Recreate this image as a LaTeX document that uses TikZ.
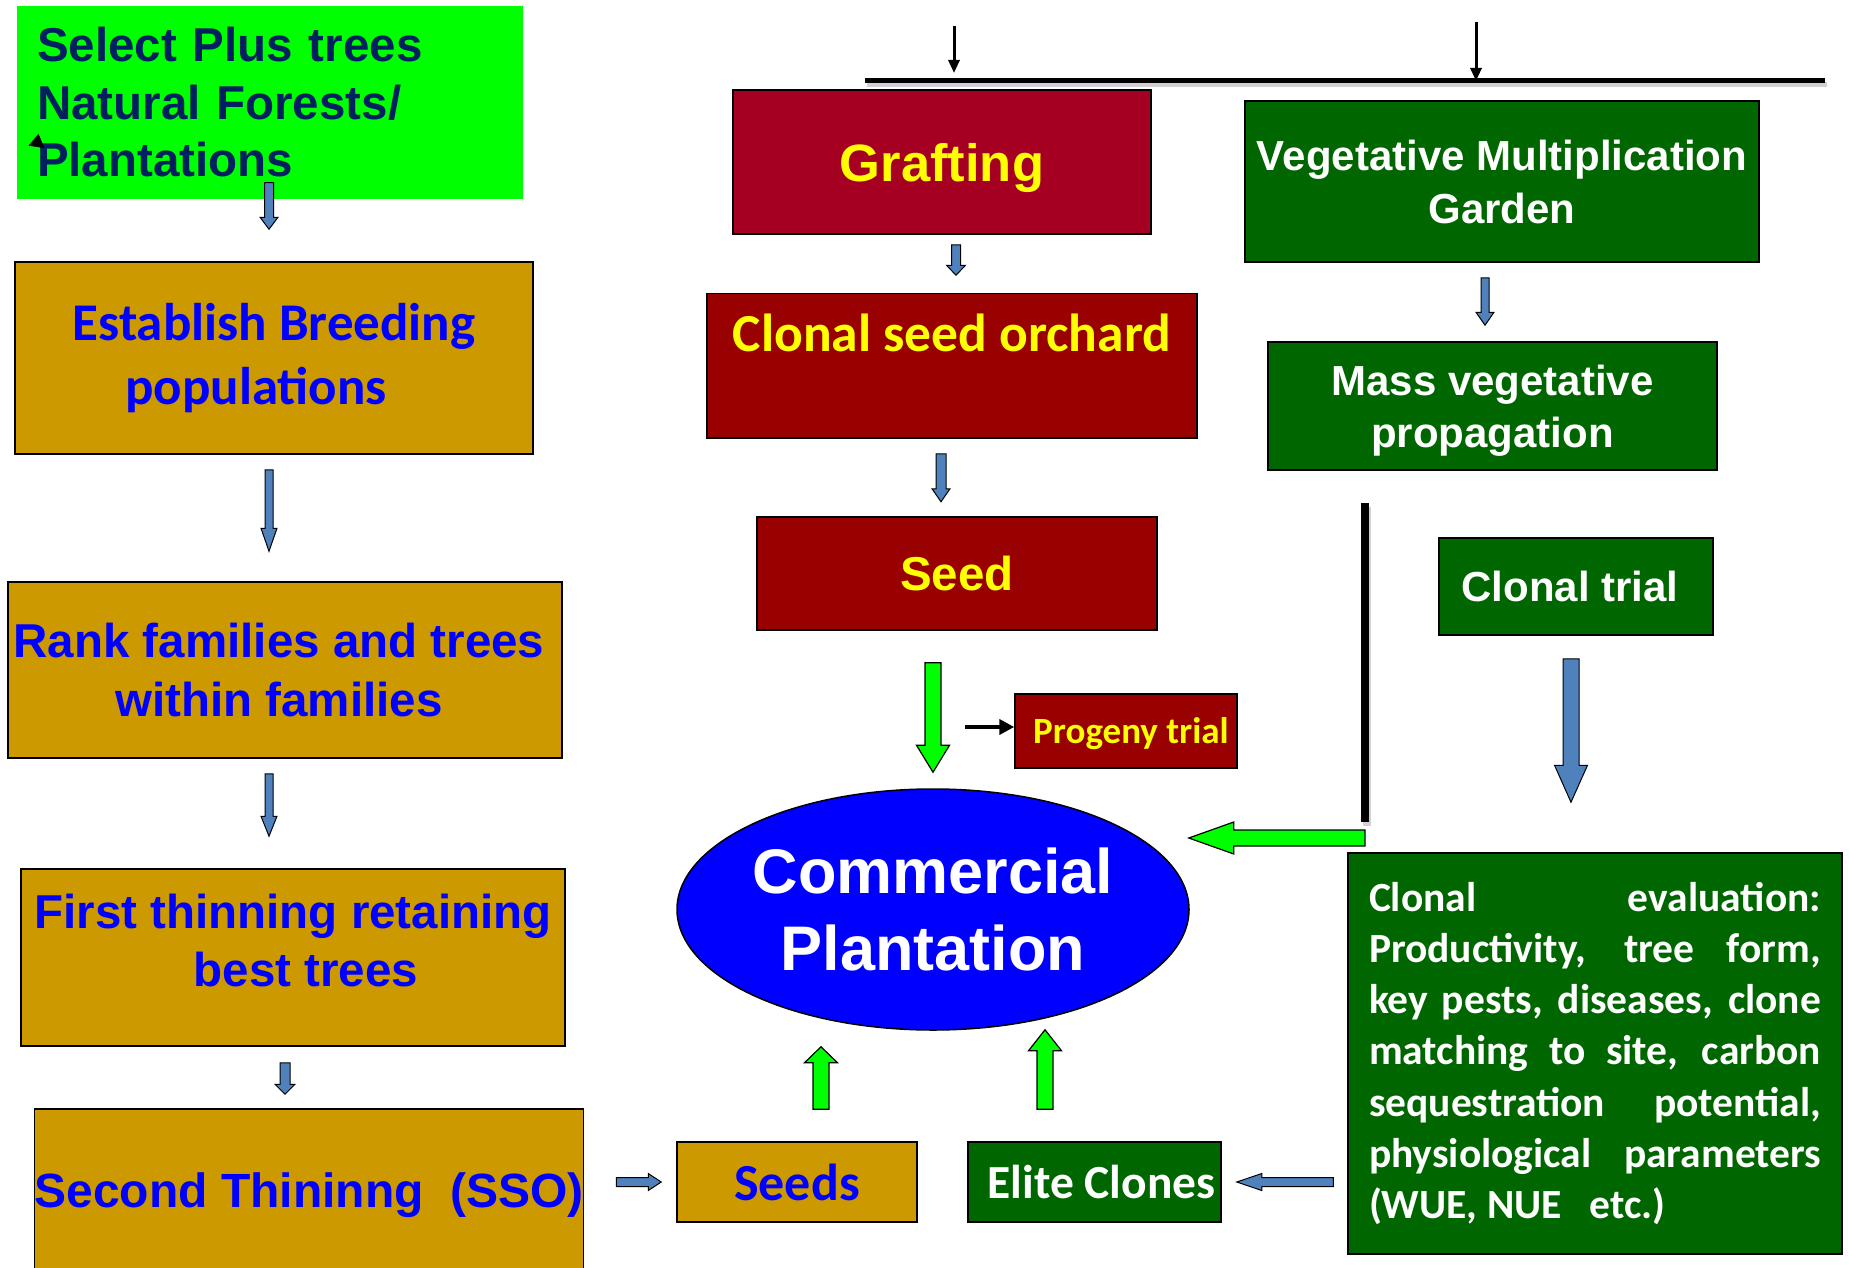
\documentclass[tikz,border=0pt]{standalone}
\usepackage{fontspec}
\setmainfont{Liberation Sans}
\newfontfamily\carlito{Carlito}
\usetikzlibrary{calc, arrows.meta, shapes.geometric}
\definecolor{flowLime}{HTML}{00FF00}
\definecolor{flowNavy}{HTML}{002060}
\definecolor{flowGold}{HTML}{CC9900}
\definecolor{flowBlue}{HTML}{0000FF}
\definecolor{flowCrimson}{HTML}{A50021}
\definecolor{flowMaroon}{HTML}{990000}
\definecolor{flowForest}{HTML}{006600}
\definecolor{flowYellow}{HTML}{FFFF00}
\definecolor{flowSteel}{HTML}{4F81BD}
\newcommand{\fsz}[2]{\fontsize{#1pt}{#2pt}\selectfont}

\begin{document}
\begin{tikzpicture}[
    x=1pt, y=-1pt,
    box/.style={draw=black, line width=1.5pt, inner sep=0pt, align=center},
    goldbox/.style={box, fill=flowGold, text=flowBlue},
    redbox/.style={box, fill=flowMaroon, text=flowYellow},
    greenbox/.style={box, fill=flowForest, text=white},
    barrow/.style n args={3}{to path={
        let \p1=(\tikztostart), \p2=(\tikztotarget), \p3=($(\p2)!#3!(\p1)$) in
        ($(\p1)!#1!90:(\p2)$) -- ($(\p3)!#1!90:(\p2)$) -- ($(\p3)!#2!90:(\p2)$) -- (\p2)
        -- ($(\p3)!#2!-90:(\p2)$) -- ($(\p3)!#1!-90:(\p2)$) -- ($(\p1)!#1!-90:(\p2)$) -- cycle}},
    bluearrow/.style n args={3}{draw=black, line width=1pt, line join=miter, fill=flowSteel, barrow={#1}{#2}{#3}},
    limearrow/.style n args={3}{draw=black, line width=1.2pt, line join=miter, fill=flowLime, barrow={#1}{#2}{#3}},
    busline/.style={line width=#1, preaction={draw=black!18, line width=#1, transform canvas={xshift=2pt, yshift=-4pt}}},
    feed/.style={line width=3pt, -{Triangle[length=13pt, width=11pt]}}
]
    \fill[white] (0,0) rectangle (1849,1268);
    \useasboundingbox (0,0) rectangle (1849,1268);

    % seed route, left
    \node[box, draw=none, fill=flowLime, text=flowNavy, align=left, text width=466pt, minimum width=506pt, minimum height=193pt, font=\bfseries\fsz{47.5}{57.5}] (plus) at (270,102.5) {Select Plus trees\\Natural Forests/\\Plantations};
    \node[goldbox, minimum width=518pt, minimum height=192pt, font=\carlito\bfseries\fsz{53}{64}] (breed) at (274,358) {Establish Breeding\\populations\hspace*{36pt}};
    \node[goldbox, minimum width=554pt, minimum height=176pt, font=\bfseries\fsz{47.5}{59}] (rank) at (285,670) {Rank families and trees\hspace*{12pt}\\within families\hspace*{12pt}};
    \node[goldbox, minimum width=544pt, minimum height=177pt, text depth=34pt, font=\bfseries\fsz{47.5}{58}] (thin1) at (293,957.5) {First thinning retaining\\\hspace*{26pt}best trees};
    \node[goldbox, minimum width=544pt, minimum height=172pt, font=\bfseries\fsz{48}{58}] (thin2) at (309,1195) {Second Thininng\ \ (SSO)};

    % grafting route, middle
    \node[box, fill=flowCrimson, text=flowYellow, minimum width=418pt, minimum height=144pt, text height=40pt, text depth=0pt, font=\bfseries\fsz{52.5}{60}] (graft) at (942,162) {Grafting};
    \node[redbox, minimum width=490pt, minimum height=144.5pt, text height=37pt, text depth=66pt, font=\carlito\bfseries\fsz{53.5}{60}] (cso) at (952,365.75) {Clonal seed orchard};
    \node[redbox, minimum width=400pt, minimum height=113pt, font=\bfseries\fsz{47.5}{55}] (seed) at (957,573.5) {Seed};
    \node[redbox, minimum width=222pt, minimum height=74pt, text height=25pt, text depth=1pt, font=\carlito\bfseries\fsz{37}{43}] (prog) at (1126,731) {\hspace*{10pt}Progeny trial};

    % clonal route, right
    \node[greenbox, minimum width=514pt, minimum height=161pt, font=\bfseries\fsz{42}{53}] (vmg) at (1502,181.5) {Vegetative Multiplication\\Garden};
    \node[greenbox, minimum width=449pt, minimum height=128pt, text depth=-3pt, font=\bfseries\fsz{42}{52}] (mass) at (1492.5,406) {Mass vegetative\\propagation};
    \node[greenbox, minimum width=274pt, minimum height=97pt, font=\bfseries\fsz{42}{50}] (trial) at (1576,586.5) {Clonal trial\hspace*{12pt}};
    \node[greenbox, minimum width=494pt, minimum height=401pt, text width=452pt, align=justify, font=\carlito\bfseries\fsz{41.5}{51.2}] (eval) at (1595,1053.5) {\noindent Clonal evaluation:\linebreak Productivity, tree form,\linebreak key pests, diseases, clone\linebreak matching to site, carbon\linebreak sequestration potential,\linebreak physiological parameters\linebreak (WUE, NUE\ \ \ etc.)};

    % outputs
    \node[goldbox, minimum width=240pt, minimum height=80pt, font=\carlito\bfseries\fsz{52}{60}] (seeds) at (797,1182) {Seeds};
    \node[greenbox, minimum width=253pt, minimum height=80pt, font=\carlito\bfseries\fsz{47.5}{55}] (elite) at (1094.5,1182) {\hspace*{14pt}Elite Clones};
    \node[ellipse, draw=black, line width=1.5pt, fill=flowBlue, text=white, inner sep=0pt, minimum width=512pt, minimum height=241pt, align=center, font=\bfseries\fsz{63}{77}] (cp) at (933,909.5) {Commercial\\Plantation};

    % free ends of the black lines
    \coordinate (busL) at (865,81);
    \coordinate (busR) at (1825,81);
    \coordinate (feedA) at (954,26);
    \coordinate (feedB) at (1476,22);
    \coordinate (vbarT) at (1365,503);
    \coordinate (vbarB) at (1365,822);
    \coordinate (progIn) at (965,727);
    \coordinate (tinyS) at (31,182);
    \coordinate (tinyE) at (38.5,134);

    \draw[busline=5pt] (busL) -- (busR);
    \draw[busline=8pt] (vbarT) -- (vbarB);
    \draw[feed] (feedA) -- ($(busL -| feedA)+(0,-8)$);
    \draw[feed] (feedB) -- (busL -| feedB);
    \draw[feed, line width=4pt, -{Triangle[length=15pt, width=15pt]}] (progIn) -- (progIn -| prog.west);
    \draw[draw=flowLime, line width=0.4pt, -{Triangle[length=13pt, width=16pt, color=black]}] (tinyS) -- (tinyE);

    % blue block arrows
    \draw[bluearrow={4.5pt}{9pt}{12pt}] ($(plus.south)+(-1,-17)$) to ($(breed.north)+(-5,-32)$);
    \draw[bluearrow={4pt}{8pt}{23pt}] ($(breed.south)+(-5,15)$) to ($(rank.north)+(-16,-30)$);
    \draw[bluearrow={4pt}{8pt}{20pt}] ($(rank.south)+(-16,15)$) to ($(thin1.north)+(-24,-32)$);
    \draw[bluearrow={5pt}{10pt}{10pt}] ($(thin1.south)+(-8,16)$) to ($(thin2.north)+(-24,-14)$);
    \draw[bluearrow={4.5pt}{9.5pt}{10pt}] ($(graft.south)+(14,10)$) to ($(cso.north)+(4,-17.5)$);
    \draw[bluearrow={5pt}{9pt}{13pt}] ($(cso.south)+(-11,15)$) to ($(seed.north)+(-16,-14.5)$);
    \draw[bluearrow={4pt}{9pt}{13pt}] ($(vmg.south)+(-17,15)$) to ($(mass.north)+(-7.5,-16)$);
    \draw[bluearrow={8pt}{16.5pt}{37pt}] ($(trial.south)+(-5,23)$) to ($(eval.north)+(-24,-50)$);
    \draw[bluearrow={4.5pt}{8.5pt}{13pt}] ($(thin2.east |- seeds.west)+(32,0)$) to ($(seeds.west)+(-15,0)$);
    \draw[bluearrow={4.5pt}{8.5pt}{25pt}] ($(eval.west |- elite.east)+(-14,0)$) to ($(elite.east)+(15,0)$);

    % green block arrows into the plantation
    \draw[limearrow={8pt}{16.5pt}{27pt}] ($(seed.south -| cp.north)+(0,32)$) to ($(cp.north)+(0,-16)$);
    \draw[limearrow={8pt}{16.5pt}{16pt}] ($(seeds.north)+(24,-32)$) to ($(cp.south)+(-112,16)$);
    \draw[limearrow={8pt}{16.5pt}{21pt}] ($(elite.north)+(-49.5,-32)$) to ($(cp.south)+(112,-1)$);
    \draw[limearrow={8pt}{16pt}{45pt}] ($(vbarB)+(0,16)$) to ($(cp.east)+(-1,-71.5)$);
\end{tikzpicture}
\end{document}
